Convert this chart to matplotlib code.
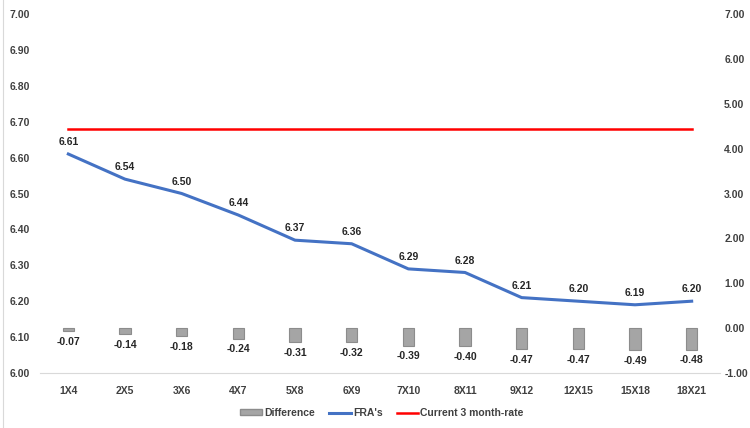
import matplotlib
matplotlib.use("Agg")
import matplotlib.pyplot as plt
from matplotlib.lines import Line2D
from matplotlib.patches import Patch

categories = ["1X4", "2X5", "3X6", "4X7", "5X8", "6X9", "7X10", "8X11",
              "9X12", "12X15", "15X18", "18X21"]
fra = [6.61, 6.54, 6.50, 6.44, 6.37, 6.36, 6.29, 6.28, 6.21, 6.20, 6.19, 6.20]
difference = [-0.07, -0.14, -0.18, -0.24, -0.31, -0.32, -0.39, -0.40,
              -0.47, -0.47, -0.49, -0.48]
current_rate = [6.68] * len(categories)

BLUE = "#4472C4"
RED = "#FF0000"
GREY = "#A5A5A5"
TEXT = "#404040"

plt.rcParams["font.family"] = ["Liberation Sans", "DejaVu Sans"]
plt.rcParams["font.weight"] = "bold"

fig = plt.figure(figsize=(7.5, 4.28), dpi=100)
ax = fig.add_axes([40 / 750, 55 / 428, 680 / 750, 359 / 428])
ax2 = ax.twinx()

x = list(range(len(categories)))

# bars on secondary axis
ax2.bar(x, difference, width=0.2, color=GREY, edgecolor="#8C8C8C", linewidth=0.8, zorder=2)
for xi, d in zip(x, difference):
    ax2.annotate(f"{d:.2f}", (xi, d), xytext=(0, -4), textcoords="offset points",
                 ha="center", va="top", fontsize=7.5, fontweight="bold", color="#262626")
ax2.set_ylim(-1, 7)
ax2.set_yticks([-1, 0, 1, 2, 3, 4, 5, 6, 7])
ax2.set_yticklabels([f"{v:.2f}" for v in range(-1, 8)])

# lines on primary axis
ax.set_zorder(ax2.get_zorder() + 1)
ax.patch.set_visible(False)
ax.plot(x, fra, color=BLUE, linewidth=2.2, zorder=3)
ax.plot(x, current_rate, color=RED, linewidth=1.8, zorder=3)
for xi, v in zip(x, fra):
    ax.annotate(f"{v:.2f}", (xi, v), xytext=(0, 5), textcoords="offset points",
                ha="center", va="bottom", fontsize=7.5, fontweight="bold", color="#262626")

ax.set_xlim(-0.5, len(categories) - 0.5)
ax.set_ylim(6.0, 7.0)
ax.set_yticks([6.0 + 0.1 * i for i in range(11)])
ax.set_yticklabels([f"{6.0 + 0.1 * i:.2f}" for i in range(11)])
ax.set_xticks(x)
ax.set_xticklabels(categories)

for a in (ax, ax2):
    for s in ("top", "left", "right"):
        a.spines[s].set_visible(False)
    a.tick_params(length=0, labelsize=7.5, colors=TEXT)
ax.spines["bottom"].set_color("#D9D9D9")
ax2.spines["bottom"].set_visible(False)
ax.tick_params(axis="y", pad=7)
ax.tick_params(axis="x", pad=9)
ax2.tick_params(axis="y", pad=3)
for lbl in ax.get_xticklabels() + ax.get_yticklabels() + ax2.get_yticklabels():
    lbl.set_fontweight("bold")

handles = [
    Patch(facecolor=GREY, edgecolor="#8C8C8C", label="Difference"),
    Line2D([], [], color=BLUE, linewidth=2.2, label="FRA's"),
    Line2D([], [], color=RED, linewidth=1.8, label="Current 3 month-rate"),
]
fig.legend(handles=handles, loc="center", bbox_to_anchor=(382 / 750, 15 / 428), ncol=3,
           frameon=False, fontsize=7.5, handlelength=2.1, handleheight=0.5,
           handletextpad=0.2, columnspacing=1.35, labelcolor=TEXT)

fig.add_artist(Line2D([3 / 750, 3 / 750], [0, 1], color="#D9D9D9", linewidth=0.8))

fig.savefig("out.png", dpi=100, facecolor="white")
